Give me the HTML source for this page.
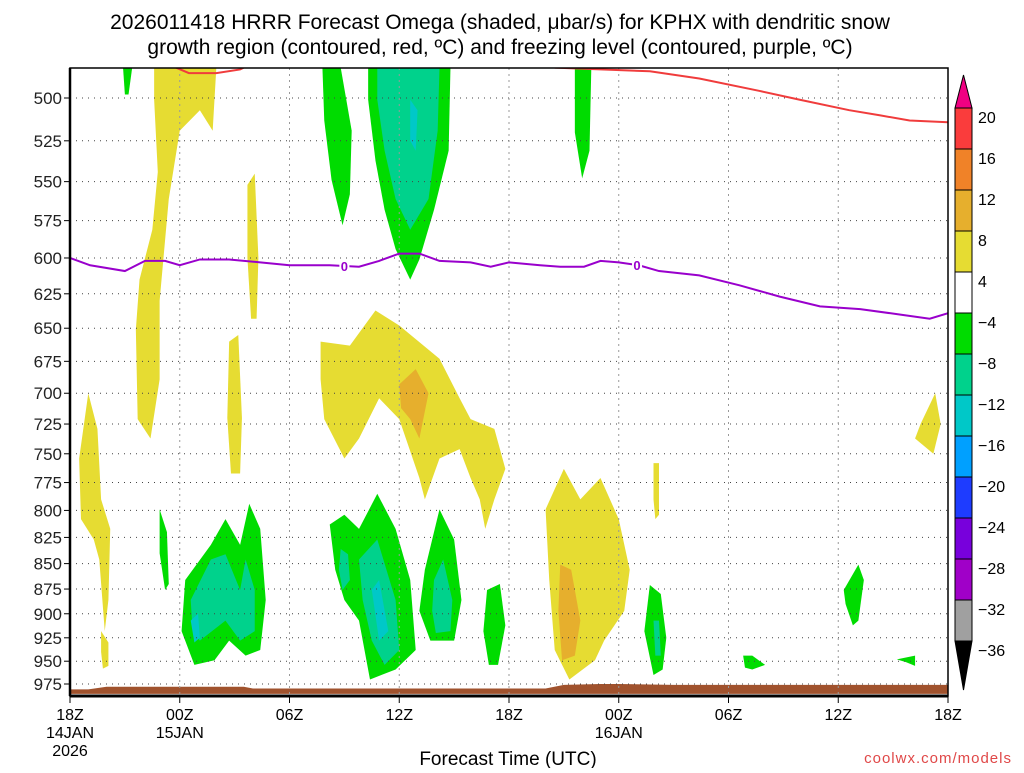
<!DOCTYPE html>
<html><head><meta charset="utf-8"><style>
body{margin:0;background:#fff;}
svg text{font-family:"Liberation Sans",sans-serif;}
</style></head><body>
<svg id="c" width="1024" height="768" xmlns="http://www.w3.org/2000/svg">
<text x="500" y="29" font-size="21" text-anchor="middle">2026011418 HRRR Forecast Omega (shaded, μbar/s) for KPHX with dendritic snow</text>
<text x="500" y="54" font-size="21" text-anchor="middle">growth region (contoured, red, ºC) and freezing level (contoured, purple, ºC)</text>
<defs><clipPath id="pc"><rect x="70" y="68" width="878" height="628"/></clipPath></defs>
<g id="fills" clip-path="url(#pc)"></g>
<g id="grid"></g>
<g id="lines" clip-path="url(#pc)"></g>
<g id="axes"></g>
<g id="cbar"></g>
<text x="508" y="765" font-size="19" text-anchor="middle">Forecast Time (UTC)</text>
<text x="1012" y="763" font-size="15" text-anchor="end" fill="#e04848" letter-spacing="1">coolwx.com/models</text>
</svg>
<script>
const pressureTicks=[500,525,550,575,600,625,650,675,700,725,750,775,800,825,850,875,900,925,950,975];
const hourTicks=[0,6,12,18,24,30,36,42,48];
const hourLabels=[["18Z","14JAN","2026"],["00Z","15JAN"],["06Z"],["12Z"],["18Z"],["00Z","16JAN"],["06Z"],["12Z"],["18Z"]];
const cbarLevels=[20,16,12,8,4,-4,-8,-12,-16,-20,-24,-28,-32,-36];
const cbarColors=["#fa3c3c","#f08228","#e6af2d","#e6dc32","#ffffff","#00dc00","#00d28c","#00c8c8","#00a0ff","#1e3cff","#7800dc","#a000c8","#a0a0a0"];
const shapeLevels=[6,6,6,6,6,6,10,6,10,6,6,-6,-6,-10,-14,-6,-6,-6,-6,-10,-14,-6,-10,-14,-10,-6,-10,-6,-6,-10,-6,-6,-6];
const shapes=[
[[4.6,483],[8,483],[7.8,519],[7.1,507],[6,519],[5.4,561],[4.9,630],[4.9,689],[4.4,737],[3.7,721],[3.6,651],[3.8,615],[4.5,581],[4.8,544],[4.6,501]],
[[9.7,552],[10.1,545],[10.3,600],[10.2,643],[9.9,643],[9.7,600]],
[[8.7,660],[9.2,655],[9.4,720],[9.3,767],[8.8,767],[8.6,720]],
[[1,700],[1.5,729],[1.7,790],[2.2,817],[2.1,886],[1.9,918],[1.6,846],[1.3,827],[0.6,808],[0.5,754]],
[[1.7,918],[2.1,930],[2.1,955],[1.8,958],[1.7,940]],
[[13.7,660],[15.3,663],[16.7,637],[18,648],[20.2,673],[21.3,704],[21.9,721],[23.2,729],[23.8,763],[23.2,790],[22.7,817],[22.4,790],[21.9,771],[21.3,746],[20.2,754],[19.4,790],[19.1,771],[18,721],[16.9,704],[15.8,737],[15,754],[13.9,721],[13.7,689]],
[[18,693],[18.9,681],[19.6,700],[19.1,737],[18.6,721],[18.1,712]],
[[27,763],[27.9,790],[29,771],[30,808],[30.6,856],[30.3,897],[29.2,928],[28.7,949],[27.3,970],[26.5,938],[26.2,866],[26,799]],
[[26.8,851],[27.4,856],[27.9,907],[27.6,944],[26.9,949],[26.7,897]],
[[31.9,758],[32.2,758],[32.2,804],[32,808],[31.9,790]],
[[47.3,700],[47.6,725],[47.2,750],[46.2,737],[46.5,725]],
[[13.8,483],[14.8,483],[15.4,519],[15.3,558],[14.9,578],[14.3,549],[13.9,513]],
[[16.3,483],[20.8,483],[20.7,531],[19.9,568],[19.1,601],[18.6,615],[17.8,594],[17.2,568],[16.7,537],[16.3,501]],
[[16.8,483],[20.2,483],[20.1,519],[19.6,561],[18.6,581],[17.8,561],[17.2,531],[16.8,501]],
[[18.6,501],[19,507],[18.9,531],[18.6,525]],
[[27.6,483],[28.5,483],[28.4,531],[28,548],[27.6,520]],
[[2.9,483],[3.4,483],[3.2,498],[3,498]],
[[4.9,799],[5.3,820],[5.4,870],[5.2,876],[4.9,840]],
[[6.3,866],[7.7,832],[8.5,808],[9.3,832],[9.8,794],[10.4,817],[10.7,886],[10.4,938],[9.6,944],[8.7,928],[7.9,949],[6.8,954],[6.1,918]],
[[6.6,886],[7.7,846],[8.5,841],[9.3,876],[9.6,846],[10.1,876],[10.1,918],[9.3,928],[8.5,907],[7.1,928],[6.7,918]],
[[6.6,907],[7,900],[7.1,925],[6.8,930]],
[[14.2,813],[15,804],[15.8,817],[16.8,785],[17.8,817],[18.6,866],[18.9,938],[17.8,959],[16.4,970],[15.8,907],[15,886],[14.5,856]],
[[15.8,846],[16.8,827],[17.8,886],[18,938],[17.2,954],[16.5,928],[16,886]],
[[16.5,876],[16.9,866],[17.4,918],[16.9,928]],
[[14.8,836],[15.2,841],[15.3,866],[14.9,876],[14.7,856]],
[[19.4,856],[20.2,799],[21,827],[21.4,886],[21,928],[19.7,928],[19.1,897]],
[[19.9,866],[20.4,846],[20.9,886],[20.8,918],[20,920],[19.8,897]],
[[22.8,876],[23.5,870],[23.8,912],[23.4,954],[22.9,954],[22.6,918]],
[[31.7,871],[32.3,880],[32.6,925],[32.4,959],[31.9,965],[31.4,918]],
[[31.9,907],[32.2,907],[32.3,944],[32,944]],
[[36.8,944],[37.3,944],[38,954],[37.3,959],[36.9,957]],
[[42.3,876],[43.1,851],[43.4,866],[43.1,907],[42.8,912],[42.4,890]],
[[45.2,948],[46.2,944],[46.2,955],[45.7,951]]
];
const terrainHours=[0,1,2,9.5,10,26,27,29,30,33,34,48];
const terrainPsfc=[981,981,978,978,980,980,976,975,975,976,976,976];
const redHoursA=[5.8,6.5,8,9.3,9.5];
const redPresA=[483,486,486,484,483];
const redHoursB=[26.5,31.7,34.4,37.7,39.9,42.6,44.3,45.9,48];
const redPresB=[483,485,489,496,501,507,510,513,514];
const frzHours=[0,1.1,3,4.1,5.2,6,7.1,8.7,10.4,12,14.2,15.8,16.9,18,19.1,20.2,21.9,23,24,25.7,26.8,28.1,29,30,31.1,32.2,34.4,36.6,38.8,41,43.2,45.4,47,48];
const frzPres=[600,605,609,602,602,605,601,601,603,605,605,606,602,597,597,602,603,606,603,605,606,606,602,603,605,609,612,619,627,634,636,640,643,639];
const frzLabelHours=[15,31];

const X0=70,X1=948,Y0=98,PB=986;
function xs(h){return X0+h*(X1-X0)/48;}
function ys(p){return Y0+(Math.log(p)-Math.log(500))/(Math.log(975)-Math.log(500))*586;}
function color(v){if(v>=8)return "#e6af2d";if(v>=4)return "#e6dc32";if(v<=-12)return "#00c8c8";if(v<=-8)return "#00d28c";return "#00dc00";}
const NS="http://www.w3.org/2000/svg";
function mk(t,parent,attrs){const e=document.createElementNS(NS,t);for(const k in attrs)e.setAttribute(k,attrs[k]);parent.appendChild(e);return e;}
const fills=document.getElementById('fills');
shapes.forEach((s,i)=>{
  const e=mk('polygon',fills,{points:s.map(q=>xs(q[0])+','+ys(q[1])).join(' '),fill:color(shapeLevels[i])});
  
  
});
let tp=terrainHours.map((h,i)=>xs(h)+','+ys(terrainPsfc[i]));
tp.push(xs(48)+','+ys(PB),xs(0)+','+ys(PB));
const ter=mk('polygon',fills,{points:tp.join(' '),fill:"#a0522d"});


const grid=document.getElementById('grid');
pressureTicks.forEach(p=>{const l=mk('line',grid,{x1:X0,x2:X1,y1:ys(p),y2:ys(p),stroke:"#444","stroke-width":1,"stroke-dasharray":"1,5"});

});
hourTicks.forEach(h=>{const l=mk('line',grid,{x1:xs(h),x2:xs(h),y1:68,y2:696,stroke:"#999","stroke-width":1,"stroke-dasharray":"2,4"});

});
const lines=document.getElementById('lines');
function pl(hs,ps,col,name){const e=mk('polyline',lines,{points:hs.map((h,i)=>xs(h)+','+ys(ps[i])).join(' '),fill:"none",stroke:col,"stroke-width":2});

}
pl(redHoursA,redPresA,"#f03c3c","dendritic-contour-a");
pl(redHoursB,redPresB,"#f03c3c","dendritic-contour-b");
pl(frzHours,frzPres,"#9900cc","freezing-level-line");
frzLabelHours.forEach(h=>{let i=0;while(i<frzHours.length-2&&frzHours[i+1]<h)i++;
const f=(h-frzHours[i])/(frzHours[i+1]-frzHours[i]);const p=frzPres[i]+f*(frzPres[i+1]-frzPres[i]);
mk('rect',lines,{x:xs(h)-5,y:ys(p)-7,width:10,height:14,fill:"#fff"});
const t=mk('text',lines,{x:xs(h),y:ys(p)+5,"font-size":13,"text-anchor":"middle",fill:"#9900cc","font-weight":"bold"});t.textContent="0";

});
const ax=document.getElementById('axes');
mk('rect',ax,{x:X0,y:68,width:X1-X0,height:628,fill:"none",stroke:"#000","stroke-width":1.5});
mk('line',ax,{x1:X0,x2:X1,y1:696,y2:696,stroke:"#000","stroke-width":3});
mk('line',ax,{x1:X0,x2:X0,y1:68,y2:696,stroke:"#000","stroke-width":2.5});
pressureTicks.forEach(p=>{mk('line',ax,{x1:X0-6,x2:X0,y1:ys(p),y2:ys(p),stroke:"#000"});
const t=mk('text',ax,{x:X0-8,y:ys(p)+6,"font-size":17,"text-anchor":"end",fill:"#222"});t.textContent=p;

});
hourTicks.forEach((h,i)=>{mk('line',ax,{x1:xs(h),x2:xs(h),y1:696,y2:703,stroke:"#000"});
hourLabels[i].forEach((s,j)=>{const t=mk('text',ax,{x:xs(h),y:720+j*18,"font-size":16,"text-anchor":"middle"});t.textContent=s;

});});
const cb=document.getElementById('cbar');
const CT=108,CH=41,CX=955,CW=17;
mk('polygon',cb,{points:`${CX},${CT} ${CX+CW},${CT} ${CX+CW/2},75`,fill:"#f00082",stroke:"#000"});
cbarColors.forEach((c,i)=>{const r=mk('rect',cb,{x:CX,y:CT+i*CH,width:CW,height:CH,fill:c,stroke:"#000"});

});
const cbEnd=CT+cbarColors.length*CH;
mk('polygon',cb,{points:`${CX},${cbEnd} ${CX+CW},${cbEnd} ${CX+CW/2},690`,fill:"#000",stroke:"#000"});
cbarLevels.forEach((v,i)=>{const t=mk('text',cb,{x:978,y:CT+i*CH+15,"font-size":16});t.textContent=v<0?"\u2212"+(-v):v;

});
</script>
</body></html>
